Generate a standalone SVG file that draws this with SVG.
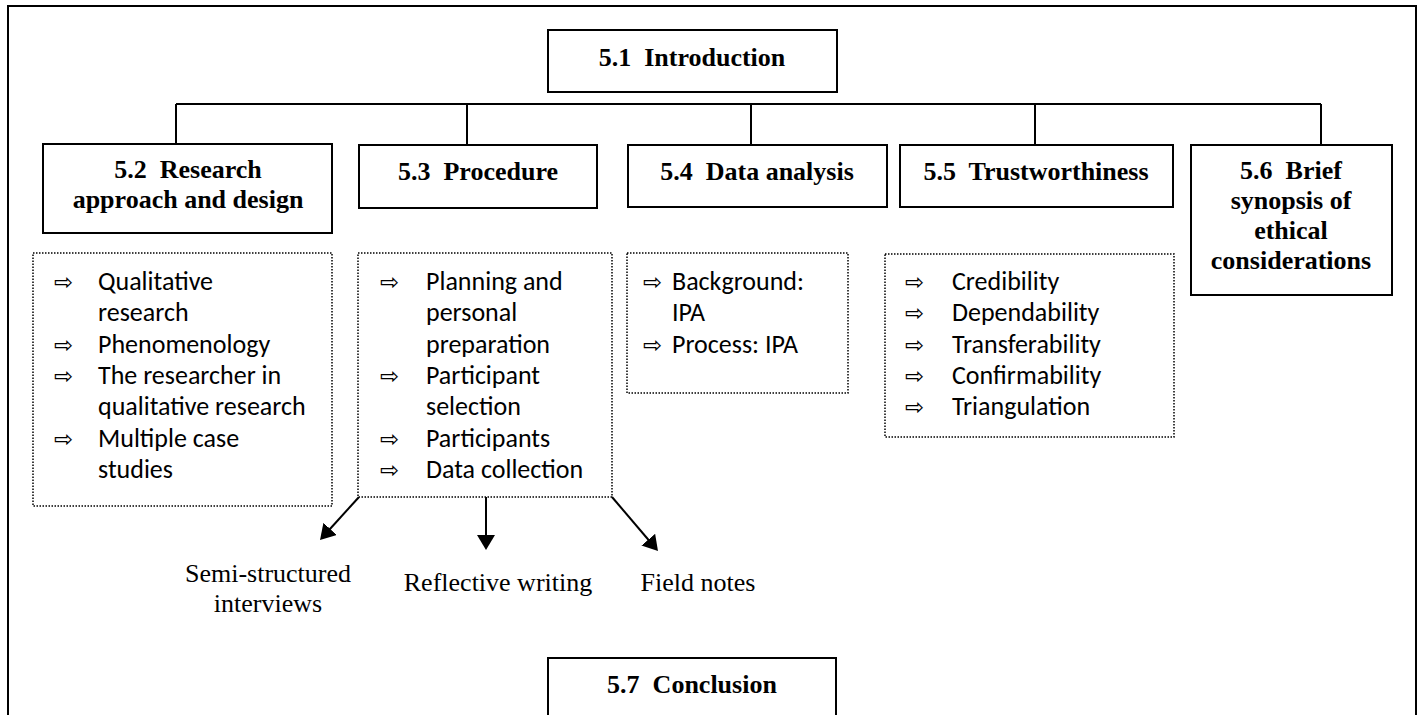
<svg xmlns="http://www.w3.org/2000/svg" width="1423" height="715" viewBox="0 0 1423 715">
<defs>
<style>
.box{fill:#fff;stroke:#000;stroke-width:2}
.dot{fill:#fff;stroke:#000;stroke-width:1.5;stroke-dasharray:1.5 1.5}
.hd{font-family:"Liberation Serif","Times New Roman",serif;font-weight:bold;font-size:26px;text-anchor:middle;fill:#000}
.lb{font-family:"Liberation Serif","Times New Roman",serif;font-size:26px;text-anchor:middle;fill:#000}
.li{font-family:Carlito,Calibri,Lato,sans-serif;font-size:26px;fill:#000}
.ar{font-family:"DejaVu Sans",sans-serif;font-size:23px;fill:#000}
.cn{fill:none;stroke:#000;stroke-width:2}
</style>
<marker id="ah" markerUnits="userSpaceOnUse" markerWidth="15" markerHeight="18" refX="11" refY="9" orient="auto">
<path d="M0,0 L15,9 L0,18 z" fill="#000"/>
</marker>
</defs>
<rect width="1423" height="715" fill="#fff"/>
<path d="M8,720 V6 H1416 V720" class="cn"/>

<g id="connectors">
<path class="cn" d="M176,104 H1321 M176,104 V145 M467,104 V145 M751,104 V145 M1035,104 V145 M1321,104 V145"/>
<line class="cn" x1="359" y1="497" x2="322.7" y2="537" marker-end="url(#ah)"/>
<line class="cn" x1="486" y1="497" x2="486" y2="546" marker-end="url(#ah)"/>
<line class="cn" x1="612" y1="497" x2="655.4" y2="548" marker-end="url(#ah)"/>
</g>

<g id="n51">
<rect class="box" x="548" y="30" width="289" height="62"/>
<text class="hd" x="692" y="66" xml:space="preserve">5.1  Introduction</text>
</g>
<g id="n52">
<rect class="box" x="43" y="144" width="289" height="89"/>
<text class="hd" x="188" y="178" xml:space="preserve">5.2  Research</text>
<text class="hd" x="188" y="208">approach and design</text>
</g>
<g id="n53">
<rect class="box" x="359" y="145" width="238" height="63"/>
<text class="hd" x="478" y="180" xml:space="preserve">5.3  Procedure</text>
</g>
<g id="n54">
<rect class="box" x="628" y="145" width="259" height="62"/>
<text class="hd" x="757" y="180" xml:space="preserve">5.4  Data analysis</text>
</g>
<g id="n55">
<rect class="box" x="900" y="145" width="273" height="62"/>
<text class="hd" x="1036" y="180" xml:space="preserve">5.5  Trustworthiness</text>
</g>
<g id="n56">
<rect class="box" x="1191" y="145" width="201" height="150"/>
<text class="hd" x="1291" y="179" xml:space="preserve">5.6  Brief</text>
<text class="hd" x="1291" y="209">synopsis of</text>
<text class="hd" x="1291" y="239">ethical</text>
<text class="hd" x="1291" y="269">considerations</text>
</g>
<g id="n57">
<rect class="box" x="548" y="658" width="288" height="70"/>
<text class="hd" x="692" y="693" xml:space="preserve">5.7  Conclusion</text>
</g>

<g id="list52">
<rect class="dot" x="33" y="253" width="299" height="253"/>
<text class="ar" x="54" y="290">⇨</text><text class="li" x="98" y="290">Qualitative</text>
<text class="li" x="98" y="321">research</text>
<text class="ar" x="54" y="353">⇨</text><text class="li" x="98" y="353">Phenomenology</text>
<text class="ar" x="54" y="384">⇨</text><text class="li" x="98" y="384">The researcher in</text>
<text class="li" x="98" y="415">qualitative research</text>
<text class="ar" x="54" y="447">⇨</text><text class="li" x="98" y="447">Multiple case</text>
<text class="li" x="98" y="478">studies</text>
</g>
<g id="list53">
<rect class="dot" x="358" y="253" width="254" height="244"/>
<text class="ar" x="380" y="290">⇨</text><text class="li" x="426" y="290">Planning and</text>
<text class="li" x="426" y="321">personal</text>
<text class="li" x="426" y="353">preparation</text>
<text class="ar" x="380" y="384">⇨</text><text class="li" x="426" y="384">Participant</text>
<text class="li" x="426" y="415">selection</text>
<text class="ar" x="380" y="447">⇨</text><text class="li" x="426" y="447">Participants</text>
<text class="ar" x="380" y="478">⇨</text><text class="li" x="426" y="478">Data collection</text>
</g>
<g id="list54">
<rect class="dot" x="627" y="253" width="221" height="140"/>
<text class="ar" x="643" y="290">⇨</text><text class="li" x="672" y="290">Background:</text>
<text class="li" x="672" y="321">IPA</text>
<text class="ar" x="643" y="353">⇨</text><text class="li" x="672" y="353">Process: IPA</text>
</g>
<g id="list55">
<rect class="dot" x="885" y="254" width="289" height="183"/>
<text class="ar" x="905" y="290">⇨</text><text class="li" x="952" y="290">Credibility</text>
<text class="ar" x="905" y="321">⇨</text><text class="li" x="952" y="321">Dependability</text>
<text class="ar" x="905" y="353">⇨</text><text class="li" x="952" y="353">Transferability</text>
<text class="ar" x="905" y="384">⇨</text><text class="li" x="952" y="384">Confirmability</text>
<text class="ar" x="905" y="415">⇨</text><text class="li" x="952" y="415">Triangulation</text>
</g>

<g id="labels">
<text class="lb" x="268" y="582">Semi-structured</text>
<text class="lb" x="268" y="612">interviews</text>
<text class="lb" x="498" y="591">Reflective writing</text>
<text class="lb" x="698" y="591">Field notes</text>
</g>
</svg>
